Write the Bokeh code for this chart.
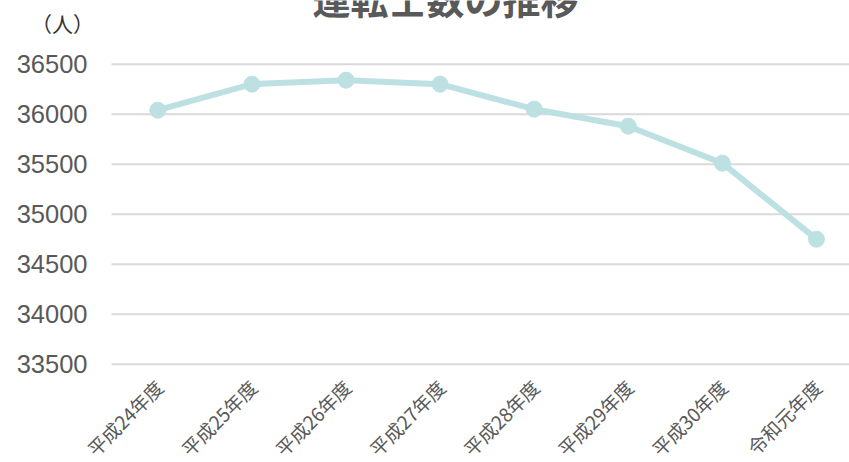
import math
from bokeh.plotting import figure
from bokeh.embed import file_html
from bokeh.resources import INLINE
from bokeh.models import Range1d
from bokeh.core.properties import value

# ---- data ----
years = ["平成24年度", "平成25年度", "平成26年度", "平成27年度",
         "平成28年度", "平成29年度", "平成30年度", "令和元年度"]
drivers = [36040, 36300, 36340, 36300, 36050, 35880, 35510, 34750]
y_ticks = [33500, 34000, 34500, 35000, 35500, 36000, 36500]
title_text = "運転士数の推移"
unit_text = "（人）"

xs = list(range(len(years)))
y_base = min(y_ticks)

# ---- layout constants (data-space positions of the plot area) ----
X_START, X_END = -1.672, 7.351      # whole canvas width
PLOT_LEFT = -0.492                  # left edge of the gridded area
YLABEL_X = -0.747                   # right edge of the y tick labels
Y_START, Y_END = 32517, 37137       # whole canvas height

p = figure(width=849, height=462, output_backend="svg", toolbar_location=None,
           x_range=Range1d(X_START, X_END), y_range=Range1d(Y_START, Y_END),
           x_axis_type=None, y_axis_type=None,
           min_border_left=0, min_border_right=0, min_border_top=0,
           min_border_bottom=0)
p.outline_line_color = None
p.background_fill_color = "white"
p.border_fill_color = "white"
p.grid.visible = False

# horizontal gridlines at the y ticks
n_t = len(y_ticks)
p.segment(x0=[PLOT_LEFT] * n_t, y0=y_ticks, x1=[X_END + 0.1] * n_t, y1=y_ticks,
          line_color="#d9d9d9", line_width=2)

# y tick labels
p.text(x=[YLABEL_X] * n_t, y=y_ticks, text=[str(t) for t in y_ticks],
       text_align="right", text_baseline="middle",
       text_font=value("Liberation Sans"), text_font_size="25.5px",
       text_color="#595959")

# category labels (rotated, below the lowest gridline)
p.text(x=xs, y=[y_base] * len(xs), text=years, angle=math.pi / 4,
       x_offset=1, y_offset=19, text_align="right", text_baseline="middle",
       text_font=value("Noto Sans CJK JP"), text_font_size="19px",
       text_color="#595959")

# series
color = "#bde0e2"
p.line(xs, drivers, line_color=color, line_width=6)
p.scatter(xs, drivers, size=16, fill_color=color, line_color=color)

# title (top partly cut off, as in the reference)
p.text(x=[3.057], y=[37165], text=[title_text], text_align="center",
       text_baseline="middle", text_font=value("Noto Sans CJK JP"),
       text_font_size="38px", text_font_style="bold", text_color="#595959")

# unit label
p.text(x=[-1.013], y=[36917], text=[unit_text], text_align="center",
       text_baseline="middle", text_font=value("Noto Sans CJK JP"),
       text_font_size="21px", text_color="#333333")

open("out.html", "w").write(file_html(p, INLINE))
